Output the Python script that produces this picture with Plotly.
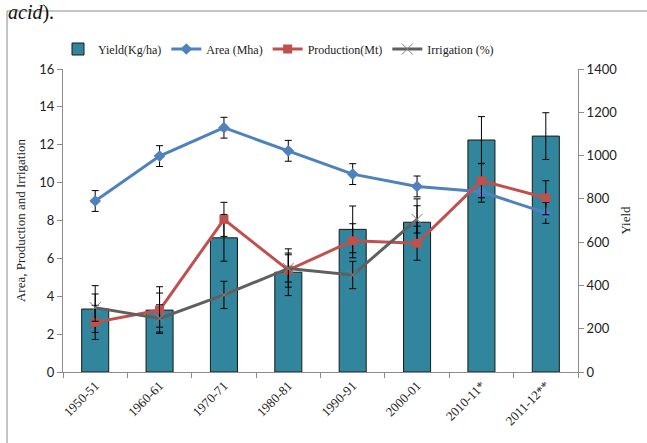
import plotly.graph_objects as go

categories = ["1950-51", "1960-61", "1970-71", "1980-81", "1990-91", "2000-01", "2010-11*", "2011-12**"]
yield_kg = [291, 286, 620, 461, 659, 692, 1072, 1090]
yield_err = [108, 108, 108, 108, 108, 108, 108, 108]
area_mha = [9.03, 11.4, 12.9, 11.68, 10.45, 9.8, 9.52, 8.4]
area_err = [0.55, 0.55, 0.55, 0.55, 0.55, 0.55, 0.55, 0.55]
production_mt = [2.62, 3.27, 8.06, 5.38, 6.93, 6.8, 10.1, 9.2]
production_err = [0.9, 0.9, 0.9, 0.9, 0.9, 0.9, 0.9, 0.9]
irrigation_pct = [3.4, 2.83, 4.07, 5.47, 5.12, 8.06, None, None]
irrigation_err = [0.72, 0.72, 0.72, 0.72, 0.72, 0.72, 0.72, 0.72]

W, H = 647, 443
ML, MR, MT, MB = 63, 69, 69, 71
pw, ph = W - ML - MR, H - MT - MB

def px(x):
    return (x - ML) / pw

def py(y):
    return (H - MB - y) / ph

serif = "Liberation Serif, Times New Roman, serif"
sans = "Lato, Open Sans, sans-serif"

fig = go.Figure()
fig.add_trace(go.Bar(
    x=categories, y=yield_kg, name="Yield(Kg/ha)",
    marker=dict(color="#31859C", line=dict(color="#1a1a1a", width=1)),
    width=0.42,
    error_y=dict(type="data", array=yield_err, color="black", thickness=1, width=3.5),
    yaxis="y",
))
fig.add_trace(go.Scatter(
    x=categories, y=area_mha, name="Area (Mha)", mode="lines+markers",
    line=dict(color="#4F81BD", width=3),
    marker=dict(symbol="diamond", size=9, color="#4F81BD"),
    error_y=dict(type="data", array=area_err, color="black", thickness=1, width=3.5),
    yaxis="y2",
))
fig.add_trace(go.Scatter(
    x=categories, y=production_mt, name="Production(Mt)", mode="lines+markers",
    line=dict(color="#C0504D", width=3),
    marker=dict(symbol="square", size=9, color="#C0504D"),
    error_y=dict(type="data", array=production_err, color="black", thickness=1, width=3.5),
    yaxis="y2",
))
fig.add_trace(go.Scatter(
    x=categories, y=irrigation_pct, name="Irrigation (%)", mode="lines+markers",
    line=dict(color="#5f5f5f", width=3),
    marker=dict(symbol="x-thin", size=11, color="#7f7f7f", line=dict(color="#7f7f7f", width=1)),
    error_y=dict(type="data", array=irrigation_err, color="black", thickness=1, width=3.5),
    connectgaps=False,
    yaxis="y2",
))

fig.update_layout(
    width=W, height=H,
    margin=dict(l=ML, r=MR, t=MT, b=MB, pad=0),
    paper_bgcolor="white", plot_bgcolor="white",
    showlegend=True,
    legend=dict(orientation="h", x=px(58), xanchor="left", y=py(49), yanchor="middle",
                font=dict(family=serif, size=12, color="#222"),
                itemwidth=30, tracegroupgap=0, bgcolor="rgba(0,0,0,0)"),
    bargap=0.58,
    xaxis=dict(
        type="category", showline=True, linecolor="#8c8c8c", linewidth=1,
        ticks="outside", ticklen=5, tickcolor="#8c8c8c", tickson="boundaries",
        tickangle=-45, tickfont=dict(family=serif, size=13, color="#222"),
        showgrid=False, zeroline=False, range=[-0.5, 7.5],
    ),
    yaxis=dict(
        side="right", range=[0, 1400], dtick=200, showline=True, linecolor="#8c8c8c",
        ticks="outside", ticklen=5, tickcolor="#8c8c8c", showgrid=False, zeroline=False,
        tickfont=dict(family=sans, size=13, color="#222"),
        title=dict(text="Yield", font=dict(family=serif, size=13, color="#222"), standoff=4),
    ),
    yaxis2=dict(
        side="left", overlaying="y", range=[0, 16], dtick=2, showline=True, linecolor="#8c8c8c",
        ticks="outside", ticklen=5, tickcolor="#8c8c8c", showgrid=False, zeroline=False,
        tickfont=dict(family=sans, size=13, color="#222"),
        title=dict(text="Area, Production and Irrigation", font=dict(family=serif, size=13, color="#222"), standoff=10),
    ),
)

fig.add_shape(type="line", xref="paper", yref="paper", x0=px(7), x1=px(W + 5), y0=py(11), y1=py(11),
              line=dict(color="#8c8c8c", width=1))
fig.add_shape(type="line", xref="paper", yref="paper", x0=px(7), x1=px(7), y0=py(11), y1=py(H + 5),
              line=dict(color="#8c8c8c", width=1))
fig.add_annotation(text="<i>acid</i>).", xref="paper", yref="paper", x=px(6), y=py(12),
                   xanchor="left", yanchor="middle", showarrow=False,
                   font=dict(family=serif, size=20, color="#111"))

fig.write_html("out.html")
